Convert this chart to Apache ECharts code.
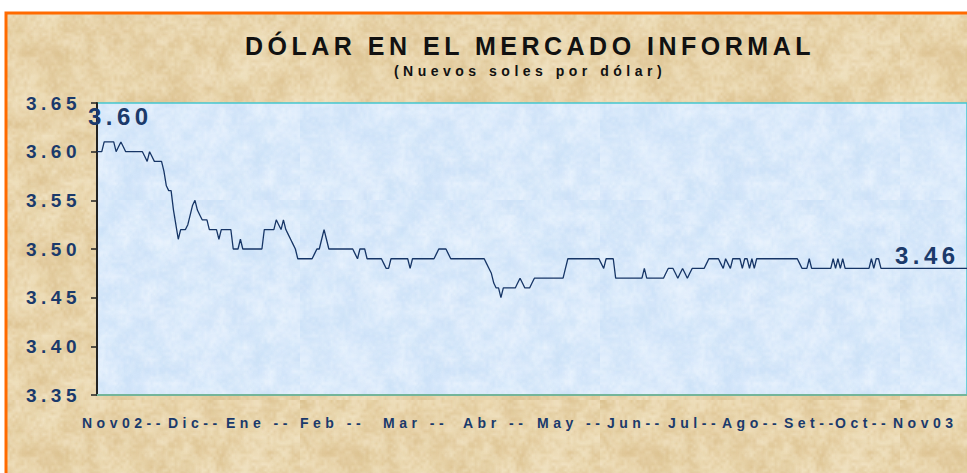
<!DOCTYPE html>
<html>
<head>
<meta charset="utf-8">
<title>Dólar en el mercado informal</title>
<script src="https://cdn.jsdelivr.net/npm/echarts@6/dist/echarts.min.js"></script>
<style>
html, body { margin: 0; padding: 0; background: #fff; }
#chart { width: 967px; height: 473px; }
#chart text { letter-spacing: 4.5px; }
</style>
</head>
<body>
<div id="chart"></div>
<script>
'use strict';
var titleText = 'DÓLAR EN EL MERCADO INFORMAL';
var subtitleText = '(Nuevos soles por dólar)';
var monthLabels = ['Nov02--', 'Dic--', 'Ene --', 'Feb --', 'Mar --', 'Abr --', 'May --',
                   'Jun--', 'Jul--', 'Ago--', 'Set--', 'Oct--', 'Nov03'];
var firstNote = '3.60';
var lastNote = '3.46';
var startDate = [2002, 10, 1];

// tipo de cambio diario (S/. por US$)
var rates = [
  3.60,3.60,3.60,3.61,3.61,3.61,3.61,3.61,3.60,3.605,3.61,3.605,
  3.60,3.60,3.60,3.60,3.60,3.60,3.60,3.60,3.595,3.59,3.60,3.595,
  3.59,3.59,3.59,3.59,3.58,3.565,3.56,3.56,3.54,3.525,3.51,
  3.52,3.52,3.52,3.525,3.535,3.545,3.55,3.54,3.535,3.53,3.53,3.53,
  3.52,3.52,3.52,3.52,3.51,3.52,3.52,3.52,3.52,3.52,3.50,3.50,3.50,3.51,
  3.50,3.50,3.50,3.50,3.50,3.50,3.50,3.50,3.50,
  3.52,3.52,3.52,3.52,3.52,3.53,3.525,3.52,3.53,3.52,3.515,3.51,3.505,3.50,
  3.49,3.49,3.49,3.49,3.49,3.49,3.49,3.495,3.50,3.50,3.51,3.52,3.51,
  3.50,3.50,3.50,3.50,3.50,3.50,3.50,3.50,3.50,3.50,3.50,3.495,3.49,
  3.50,3.50,3.50,3.49,3.49,3.49,3.49,3.49,3.49,3.49,3.485,3.48,3.48,
  3.49,3.49,3.49,3.49,3.49,3.49,3.49,3.49,3.48,
  3.49,3.49,3.49,3.49,3.49,3.49,3.49,3.49,3.49,3.49,3.495,3.50,3.50,3.50,3.50,3.495,
  3.49,3.49,3.49,3.49,3.49,3.49,3.49,3.49,3.49,3.49,3.49,3.49,3.49,3.49,3.49,
  3.485,3.48,3.475,3.465,3.46,3.46,3.45,
  3.46,3.46,3.46,3.46,3.46,3.46,3.465,3.47,3.465,3.46,3.46,3.46,3.465,
  3.47,3.47,3.47,3.47,3.47,3.47,3.47,3.47,3.47,3.47,3.47,3.47,3.47,3.48,
  3.49,3.49,3.49,3.49,3.49,3.49,3.49,3.49,3.49,3.49,3.49,3.49,3.49,3.49,
  3.485,3.48,3.49,3.49,3.49,3.49,
  3.47,3.47,3.47,3.47,3.47,3.47,3.47,3.47,3.47,3.47,3.47,3.47,3.48,
  3.47,3.47,3.47,3.47,3.47,3.47,3.47,3.47,3.475,3.48,3.48,3.48,
  3.475,3.47,3.475,3.48,3.475,3.47,3.475,3.48,3.48,3.48,3.48,3.48,3.48,3.485,
  3.49,3.49,3.49,3.49,3.49,3.485,3.48,3.49,3.485,3.48,3.49,3.49,3.49,3.49,
  3.48,3.49,3.49,3.48,3.49,3.48,
  3.49,3.49,3.49,3.49,3.49,3.49,3.49,3.49,3.49,3.49,3.49,3.49,3.49,3.49,3.49,3.49,3.49,3.49,
  3.485,3.48,3.48,3.48,3.49,3.48,3.48,3.48,3.48,3.48,3.48,3.48,3.48,3.48,
  3.49,3.48,3.49,3.48,3.49,
  3.48,3.48,3.48,3.48,3.48,3.48,3.48,3.48,3.48,3.48,3.48,
  3.49,3.48,3.49,3.49,
  3.48,3.48,3.48,3.48,3.48,3.48,3.48,3.48,3.48,3.48,
  3.48,3.48,3.48,3.48,3.48,3.48,3.48,3.48,3.48,3.48,
  3.48,3.48,3.48,3.48,3.48,3.48,3.48,3.48,3.48,3.48,
  3.48,3.48,3.48,3.48,3.48,3.48,3.48
];

var days = [];
for (var i = 0; i < rates.length; i++) {
  var d = new Date(startDate[0], startDate[1], startDate[2] + i);
  days.push(d.getFullYear() + '-' + (d.getMonth() + 1) + '-' + d.getDate());
}

// textura tipo papel (solo decorativa)
function makeTexture(w, h, base, dark, light, seed, strength) {
  var s = seed;
  function rnd() { s = (s * 16807) % 2147483647; return (s - 1) / 2147483646; }
  var c = document.createElement('canvas');
  c.width = w; c.height = h;
  var ctx = c.getContext('2d');
  ctx.fillStyle = base;
  ctx.fillRect(0, 0, w, h);
  [12, 3].forEach(function (step, k) {
    var sc = document.createElement('canvas');
    sc.width = Math.ceil(w / step); sc.height = Math.ceil(h / step);
    var sctx = sc.getContext('2d');
    var img = sctx.createImageData(sc.width, sc.height);
    for (var p = 0; p < img.data.length; p += 4) {
      var r = rnd();
      var col = r < 0.5 ? dark : light;
      img.data[p] = col[0]; img.data[p + 1] = col[1]; img.data[p + 2] = col[2];
      img.data[p + 3] = Math.abs(r - 0.5) * 2 * strength[k];
    }
    sctx.putImageData(img, 0, 0);
    ctx.imageSmoothingEnabled = true;
    ctx.drawImage(sc, 0, 0, w, h);
  });
  return c;
}

var paper = makeTexture(300, 200, '#e9d5ab', [212, 182, 128], [247, 237, 212], 7, [110, 70]);
var water = makeTexture(300, 200, '#d8e9fb', [196, 220, 246], [246, 250, 255], 11, [120, 60]);

var navy = '#1b3a6b';
var font = '"Liberation Sans", Arial, sans-serif';

var myChart = echarts.init(document.getElementById('chart'), null, { renderer: 'svg' });

var graphics = [{
  type: 'rect', z: -100, silent: true,
  shape: { x: 6, y: 13, width: 1000, height: 500 },
  style: { fill: { image: paper, repeat: 'repeat' }, stroke: '#ff6a00', lineWidth: 3 }
}];
var labelLeft = [82, 168, 226, 300, 383, 463, 537, 607, 668, 722, 784, 835, 893];
monthLabels.forEach(function (m, k) {
  graphics.push({
    type: 'text', left: labelLeft[k], top: 416, z: 10,
    style: { text: m, font: 'bold 14px ' + font, fill: navy }
  });
});
graphics.push({
  type: 'text', left: 88, top: 104, z: 10,
  style: { text: firstNote, font: 'bold 24px ' + font, fill: navy }
});
graphics.push({
  type: 'text', left: 895, top: 243, z: 10,
  style: { text: lastNote, font: 'bold 24px ' + font, fill: navy }
});

var option = {
  animation: false,
  backgroundColor: '#fff',
  title: {
    text: titleText,
    subtext: subtitleText,
    left: 525,
    top: 28,
    textAlign: 'center',
    itemGap: 6,
    textStyle: { fontFamily: font, fontWeight: 'bold', fontSize: 25, color: '#111' },
    subtextStyle: { fontFamily: font, fontWeight: 'bold', fontSize: 14, color: '#111' }
  },
  grid: {
    left: 97, right: -1, top: 103, bottom: 78,
    show: true,
    backgroundColor: { image: water, repeat: 'repeat' },
    borderColor: '#45c6cf',
    borderWidth: 1.5
  },
  xAxis: {
    type: 'category',
    data: days,
    boundaryGap: false,
    axisLine: { lineStyle: { color: '#74b59a', width: 2 } },
    axisTick: { show: false },
    axisLabel: { show: false },
    splitLine: { show: false }
  },
  yAxis: {
    type: 'value',
    min: 3.35, max: 3.65, interval: 0.05,
    axisLine: { show: true, lineStyle: { color: '#222', width: 2 } },
    axisTick: { show: true, length: 6, lineStyle: { color: '#222', width: 1.5 } },
    splitLine: { show: false },
    axisLabel: {
      margin: 16,
      formatter: function (v) { return v.toFixed(2); },
      fontFamily: font, fontWeight: 'bold', fontSize: 19, color: navy
    }
  },
  graphic: graphics,
  series: [{
    type: 'line',
    data: rates,
    showSymbol: false,
    lineStyle: { color: '#163566', width: 1.3 }
  }]
};
myChart.setOption(option);
</script>
</body>
</html>
